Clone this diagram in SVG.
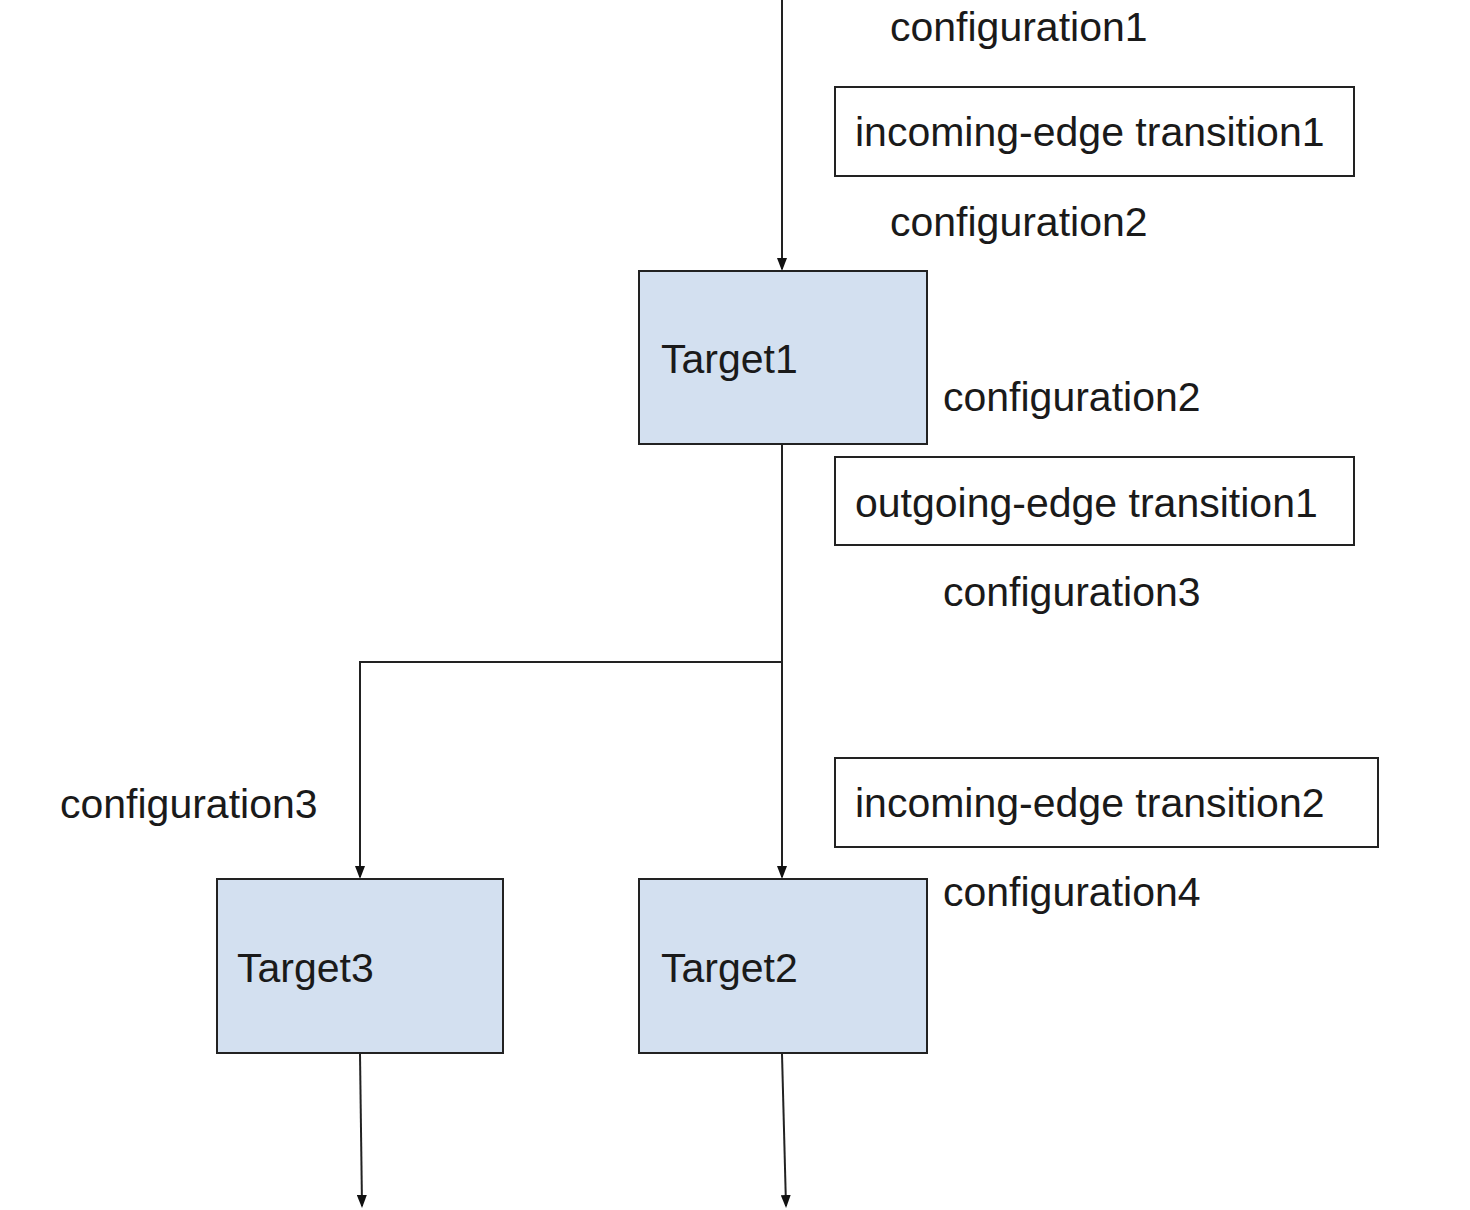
<svg xmlns="http://www.w3.org/2000/svg" width="1470" height="1210" viewBox="0 0 1470 1210">
<style>
text{font-family:"Liberation Sans",Arial,sans-serif;font-size:41px;fill:#1a1a1a}
.t{fill:#d3e0f0;stroke:#222;stroke-width:2}
.b{fill:#fff;stroke:#222;stroke-width:2}
.c{fill:none;stroke:#222;stroke-width:2}
</style>
<defs>
<marker id="a" markerWidth="13" markerHeight="10" refX="11" refY="5" orient="auto" markerUnits="userSpaceOnUse" viewBox="0 0 13 10">
<path d="M0,0 L13,5 L0,10 Z" fill="#111"/>
</marker>
</defs>
<rect width="1470" height="1210" fill="#fff"/>
<g id="connectors">
<path class="c" d="M782,0 V269" marker-end="url(#a)"/>
<path class="c" d="M782,445 V877" marker-end="url(#a)"/>
<path class="c" d="M782,662 H360 V877" marker-end="url(#a)"/>
<path class="c" d="M360,1054 L362,1206" marker-end="url(#a)"/>
<path class="c" d="M782,1054 L786,1206" marker-end="url(#a)"/>
</g>
<g id="target1"><rect class="t" x="639" y="271" width="288" height="173"/><text x="661" y="373">Target1</text></g>
<g id="target2"><rect class="t" x="639" y="879" width="288" height="174"/><text x="661" y="982">Target2</text></g>
<g id="target3"><rect class="t" x="217" y="879" width="286" height="174"/><text x="237" y="982">Target3</text></g>
<g id="in1"><rect class="b" x="835" y="87" width="519" height="89"/><text x="855" y="146">incoming-edge transition1</text></g>
<g id="out1"><rect class="b" x="835" y="457" width="519" height="88"/><text x="855" y="517">outgoing-edge transition1</text></g>
<g id="in2"><rect class="b" x="835" y="758" width="543" height="89"/><text x="855" y="817">incoming-edge transition2</text></g>
<g id="labels">
<text x="890" y="41">configuration1</text>
<text x="890" y="236">configuration2</text>
<text x="943" y="411">configuration2</text>
<text x="943" y="606">configuration3</text>
<text x="60" y="818">configuration3</text>
<text x="943" y="906">configuration4</text>
</g>
</svg>
